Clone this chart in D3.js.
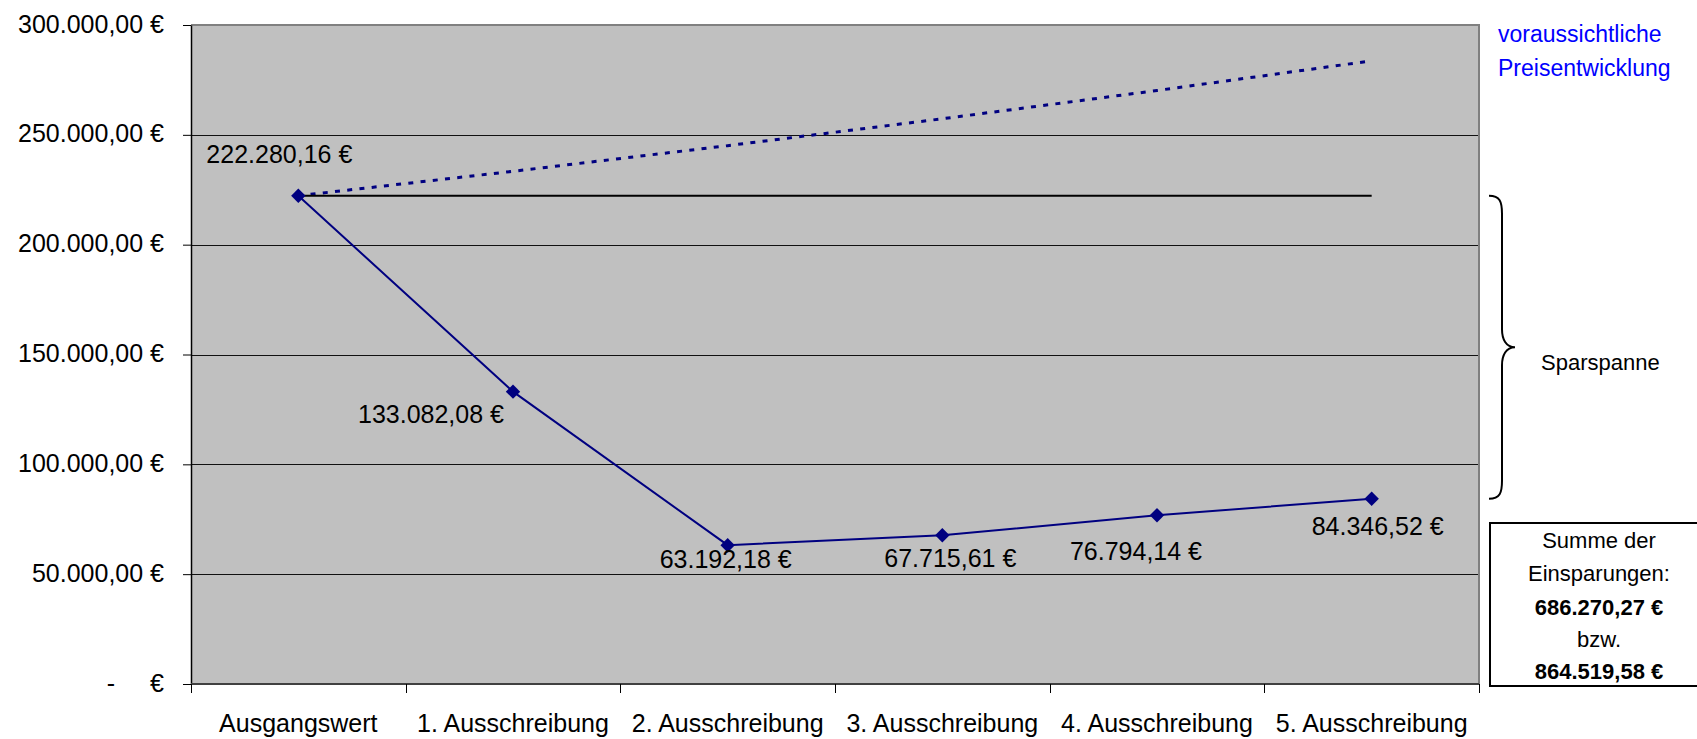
<!DOCTYPE html>
<html lang="de">
<head>
<meta charset="utf-8">
<script src="https://cdn.jsdelivr.net/npm/d3@7/dist/d3.min.js"></script>
<style>
  html, body { margin: 0; padding: 0; background: #ffffff; }
  svg { display: block; font-family: "Liberation Sans", Arial, sans-serif; }
</style>
</head>
<body>
<svg id="chart" width="1697" height="739"></svg>
<script>
// Ausschreibungsergebnisse
const categories = ["Ausgangswert", "1. Ausschreibung", "2. Ausschreibung",
                    "3. Ausschreibung", "4. Ausschreibung", "5. Ausschreibung"];
const ergebnisse = [222280.16, 133082.08, 63192.18, 67715.61, 76794.14, 84346.52];
// voraussichtliche Preisentwicklung (gepunktet)
const prognose = [222280.16, 233394.17, 245063.88, 257317.07, 270182.93, 283692.07];
// Ausgangswert als waagerechte Linie
const ausgangswert = [222280.16, 222280.16, 222280.16, 222280.16, 222280.16, 222280.16];
const yTicks = [0, 50000, 100000, 150000, 200000, 250000, 300000];
const summeEinsparungen = ["686.270,27 €", "864.519,58 €"];

// label placement relative to each marker: [dx, dy of baseline]
const labelOffsets = [[-19, -33], [-82, 31], [-2, 23], [8, 32], [-21, 45], [6, 36]];

const svg = d3.select("#chart");
const plot = { left: 191, top: 25, right: 1479, bottom: 684 };

const x = d3.scaleBand().domain(categories).range([plot.left, plot.right]).padding(0);
const y = d3.scaleLinear().domain([0, 300000]).range([plot.bottom, plot.top]);
const cx = c => x(c) + x.bandwidth() / 2;

const de = d3.formatLocale({ decimal: ",", thousands: ".", grouping: [3], currency: ["", " €"] });
const fmt = de.format(",.2f");

// plot area
svg.append("rect")
  .attr("x", plot.left).attr("y", plot.top)
  .attr("width", plot.right - plot.left).attr("height", plot.bottom - plot.top)
  .attr("fill", "#c0c0c0");

// horizontal gridlines
svg.append("g").selectAll("line")
  .data(yTicks.filter(v => v > 0 && v < 300000))
  .join("line")
  .attr("x1", plot.left).attr("x2", plot.right)
  .attr("y1", d => Math.round(y(d)) + 0.5).attr("y2", d => Math.round(y(d)) + 0.5)
  .attr("stroke", "#111").attr("stroke-width", 1);

// frame: top and right in grey
svg.append("path")
  .attr("d", `M${plot.left},${plot.top} H${plot.right} V${plot.bottom}`)
  .attr("fill", "none").attr("stroke", "#808080").attr("stroke-width", 2);

// y axis
const yAxis = d3.axisLeft(y)
  .tickValues(yTicks)
  .tickSizeInner(8).tickSizeOuter(0).tickPadding(19)
  .tickFormat(d => d === 0 ? "" : fmt(d) + " €");
const gy = svg.append("g")
  .attr("transform", `translate(${plot.left},0)`)
  .call(yAxis);
gy.select(".domain").attr("stroke", "#000").attr("stroke-width", 1.5);
gy.selectAll(".tick line").attr("stroke", "#000");
gy.selectAll(".tick text")
  .attr("font-size", 25).attr("fill", "#000")
  .attr("font-family", "'Liberation Sans', Arial, sans-serif")
  .attr("dy", "0.28em");
// zero label: dash and currency sign
const zeroTick = gy.selectAll(".tick").filter(d => d === 0);
zeroTick.append("text").attr("x", -80).attr("dy", "0.28em")
  .attr("text-anchor", "middle").attr("font-size", 25).attr("fill", "#000").text("-");
zeroTick.append("text").attr("x", -27).attr("dy", "0.28em")
  .attr("text-anchor", "end").attr("font-size", 25).attr("fill", "#000").text("€");

// x axis
const xAxis = d3.axisBottom(x).tickSize(0).tickPadding(30);
const gx = svg.append("g")
  .attr("transform", `translate(0,${plot.bottom})`)
  .call(xAxis);
gx.select(".domain").remove();
gx.selectAll(".tick text")
  .attr("font-size", 25).attr("fill", "#000")
  .attr("font-family", "'Liberation Sans', Arial, sans-serif");
svg.append("line")
  .attr("x1", plot.left).attr("x2", plot.right)
  .attr("y1", plot.bottom).attr("y2", plot.bottom)
  .attr("stroke", "#404040").attr("stroke-width", 2);
// category boundary ticks
const bounds = categories.map(c => x(c)).concat([plot.right]);
svg.append("g").selectAll("line")
  .data(bounds).join("line")
  .attr("x1", d => Math.round(d) + 0.5).attr("x2", d => Math.round(d) + 0.5)
  .attr("y1", plot.bottom).attr("y2", plot.bottom + 9)
  .attr("stroke", "#000").attr("stroke-width", 1);

// expected price trend (dotted)
const line = d3.line().x((d, i) => cx(categories[i])).y(d => y(d));
svg.append("path")
  .datum(prognose)
  .attr("d", line)
  .attr("fill", "none").attr("stroke", "#000080")
  .attr("stroke-width", 3).attr("stroke-dasharray", "5 7.3");

// starting value line
svg.append("path")
  .datum(ausgangswert)
  .attr("d", line)
  .attr("fill", "none").attr("stroke", "#000").attr("stroke-width", 2);

// results series
svg.append("path")
  .datum(ergebnisse)
  .attr("d", line)
  .attr("fill", "none").attr("stroke", "#000080").attr("stroke-width", 2);

const diamond = d3.symbol().type(d3.symbolSquare).size(104);
svg.append("g").selectAll("path")
  .data(ergebnisse).join("path")
  .attr("d", diamond)
  .attr("transform", (d, i) => `translate(${cx(categories[i])},${y(d)}) rotate(45)`)
  .attr("fill", "#000080");

// value labels
svg.append("g").selectAll("text")
  .data(ergebnisse).join("text")
  .attr("x", (d, i) => cx(categories[i]) + labelOffsets[i][0])
  .attr("y", (d, i) => y(d) + labelOffsets[i][1])
  .attr("text-anchor", "middle")
  .attr("font-size", 25).attr("fill", "#000")
  .text(d => fmt(d) + " €");

// legend text for the trend line
const trend = svg.append("text")
  .attr("x", 1498).attr("font-size", 23).attr("fill", "#0000ff");
trend.append("tspan").attr("x", 1498).attr("y", 42).text("voraussichtliche");
trend.append("tspan").attr("x", 1498).attr("y", 76).text("Preisentwicklung");

// brace spanning the savings range
const yTopB = y(ergebnisse[0]);
const yBotB = y(ergebnisse[ergebnisse.length - 1]);
const yMid = (yTopB + yBotB) / 2;
const bx = 1489, bv = 1502, tip = 1515;
svg.append("path")
  .attr("d", [
    `M${bx},${yTopB}`,
    `C${bv - 2},${yTopB} ${bv},${yTopB + 6} ${bv},${yTopB + 18}`,
    `L${bv},${yMid - 18}`,
    `C${bv},${yMid - 8} ${bv + 4},${yMid} ${tip},${yMid}`,
    `C${bv + 4},${yMid} ${bv},${yMid + 8} ${bv},${yMid + 18}`,
    `L${bv},${yBotB - 18}`,
    `C${bv},${yBotB - 6} ${bv - 2},${yBotB} ${bx},${yBotB}`
  ].join(" "))
  .attr("fill", "none").attr("stroke", "#000").attr("stroke-width", 2);

svg.append("text")
  .attr("x", 1541).attr("y", 370)
  .attr("font-size", 22).attr("fill", "#000")
  .text("Sparspanne");

// total savings box
svg.append("rect")
  .attr("x", 1490).attr("y", 523).attr("width", 230).attr("height", 163)
  .attr("fill", "#fff").attr("stroke", "#000").attr("stroke-width", 2);
const boxLines = [
  { t: "Summe der", b: false, y: 548 },
  { t: "Einsparungen:", b: false, y: 581 },
  { t: summeEinsparungen[0], b: true, y: 615 },
  { t: "bzw.", b: false, y: 647 },
  { t: summeEinsparungen[1], b: true, y: 679 }
];
svg.append("g").selectAll("text")
  .data(boxLines).join("text")
  .attr("x", 1599).attr("y", d => d.y)
  .attr("text-anchor", "middle")
  .attr("font-size", 22)
  .attr("font-weight", d => d.b ? "bold" : "normal")
  .attr("fill", "#000")
  .text(d => d.t);
</script>
</body>
</html>
